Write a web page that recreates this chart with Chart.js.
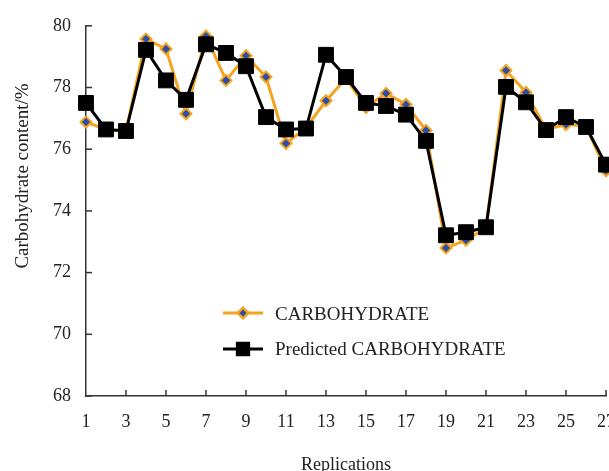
<!DOCTYPE html>
<html>
<head>
<meta charset="utf-8">
<script src="https://cdn.jsdelivr.net/npm/chart.js@4.4.1/dist/chart.umd.min.js"></script>
<style>
  html, body { margin: 0; padding: 0; background: #fff; overflow: hidden; }
  #wrap { width: 630px; height: 471px; }
</style>
</head>
<body>
<div id="wrap"><canvas id="carbChart" width="630" height="471"></canvas></div>
<script>
const replications = [1, 2, 3, 4, 5, 6, 7, 8, 9, 10, 11, 12, 13, 14, 15, 16, 17, 18, 19, 20, 21, 22, 23, 24, 25, 26, 27];
const carbohydrate = [76.88, 76.64, 76.6, 79.57, 79.25, 77.15, 79.67, 78.23, 79.03, 78.34, 76.19, 76.7, 77.57, 78.3, 77.35,
                      77.81, 77.45, 76.61, 72.8, 73.05, 73.45, 78.55, 77.84, 76.64, 76.8, 76.75, 75.3];
const predicted = [77.5, 76.64, 76.59, 79.22, 78.23, 77.6, 79.4, 79.12, 78.69, 77.04, 76.64, 76.67, 79.06, 78.34, 77.5,
                   77.4, 77.12, 76.27, 73.21, 73.31, 73.47, 78.02, 77.52, 76.62, 77.04, 76.72, 75.5];
const yTicks = [68, 70, 72, 74, 76, 78, 80];

const serif = "'Liberation Serif', 'Times New Roman', serif";
const orange = "#F4A420";
const blue = "#2C4FA3";
const ink = "#222";

// inward tick marks, axis titles and the in-plot legend
const extras = {
    id: "extras",
    afterDraw(chart) {
        const c = chart.ctx;
        const x = chart.scales.x, y = chart.scales.y;
        const area = chart.chartArea;
        c.save();
        c.strokeStyle = "#333";
        c.lineWidth = 1.5;
        yTicks.forEach(v => {
            const py = y.getPixelForValue(v);
            c.beginPath();
            c.moveTo(area.left, py);
            c.lineTo(area.left + 6, py);
            c.stroke();
        });
        x.ticks.forEach(t => {
            if (t.value === 1) return;
            const px = x.getPixelForValue(t.value);
            c.beginPath();
            c.moveTo(px, area.bottom);
            c.lineTo(px, area.bottom - 6);
            c.stroke();
        });

        c.fillStyle = ink;
        c.font = "18px " + serif;
        c.textAlign = "center";
        c.textBaseline = "alphabetic";
        c.fillText("Replications", (area.left + area.right) / 2, 470);

        c.save();
        c.translate(28, 176);
        c.rotate(-Math.PI / 2);
        c.font = "19px " + serif;
        c.fillText("Carbohydrate content/%", 0, 0);
        c.restore();

        // legend
        const rows = [
            { ds: chart.data.datasets[0], y: 313, ty: 315 },
            { ds: chart.data.datasets[1], y: 349, ty: 350 }
        ];
        rows.forEach(r => {
            c.strokeStyle = r.ds.borderColor;
            c.lineWidth = 3;
            c.beginPath();
            c.moveTo(223, r.y);
            c.lineTo(263, r.y);
            c.stroke();
            Chart.helpers.drawPoint(c, {
                pointStyle: r.ds.pointStyle,
                radius: r.ds.pointStyle === "rect" ? 8 : 5,
                borderWidth: r.ds.pointBorderWidth,
                rotation: 0
            }, 243, r.y);
            c.fillStyle = r.ds.pointBackgroundColor;
            c.strokeStyle = r.ds.pointBorderColor;
            c.lineWidth = r.ds.pointBorderWidth;
            c.fill();
            c.stroke();
            c.fillStyle = ink;
            c.font = "19px " + serif;
            c.textAlign = "left";
            c.textBaseline = "middle";
            c.fillText(r.ds.label, 275, r.ty);
        });
        c.restore();
    }
};

new Chart(document.getElementById("carbChart"), {
    type: "line",
    data: {
        datasets: [{
            label: "CARBOHYDRATE",
            data: replications.map((r, i) => ({ x: r, y: carbohydrate[i] })),
            borderColor: orange,
            borderWidth: 3,
            pointStyle: "rectRot",
            pointRadius: 5.5,
            pointBackgroundColor: blue,
            pointBorderColor: orange,
            pointBorderWidth: 2,
            tension: 0,
            clip: false,
            order: 2
        }, {
            label: "Predicted CARBOHYDRATE",
            data: replications.map((r, i) => ({ x: r, y: predicted[i] })),
            borderColor: "#000",
            borderWidth: 3,
            pointStyle: "rect",
            pointRadius: 10.5,
            pointBackgroundColor: "#000",
            pointBorderColor: "#000",
            pointBorderWidth: 1,
            tension: 0,
            clip: false,
            order: 1
        }]
    },
    options: {
        responsive: false,
        animation: false,
        layout: { padding: { top: 21, right: 20, left: 0, bottom: 0 } },
        plugins: {
            legend: { display: false },
            tooltip: { enabled: false }
        },
        scales: {
            x: {
                type: "linear",
                min: 1,
                max: 27,
                grid: { display: false, drawTicks: false },
                border: { display: true, color: "#333", width: 1.5 },
                ticks: { stepSize: 2, color: ink, font: { family: serif, size: 18 }, padding: 15, maxRotation: 0 },
                afterFit: s => { s.height = 75; }
            },
            y: {
                min: 68,
                max: 80,
                grid: { display: false, drawTicks: false },
                border: { display: true, color: "#333", width: 1.5 },
                ticks: { stepSize: 2, color: ink, font: { family: serif, size: 18 }, padding: 15 },
                afterFit: s => { s.width = 86; }
            }
        }
    },
    plugins: [extras]
});
</script>
</body>
</html>
